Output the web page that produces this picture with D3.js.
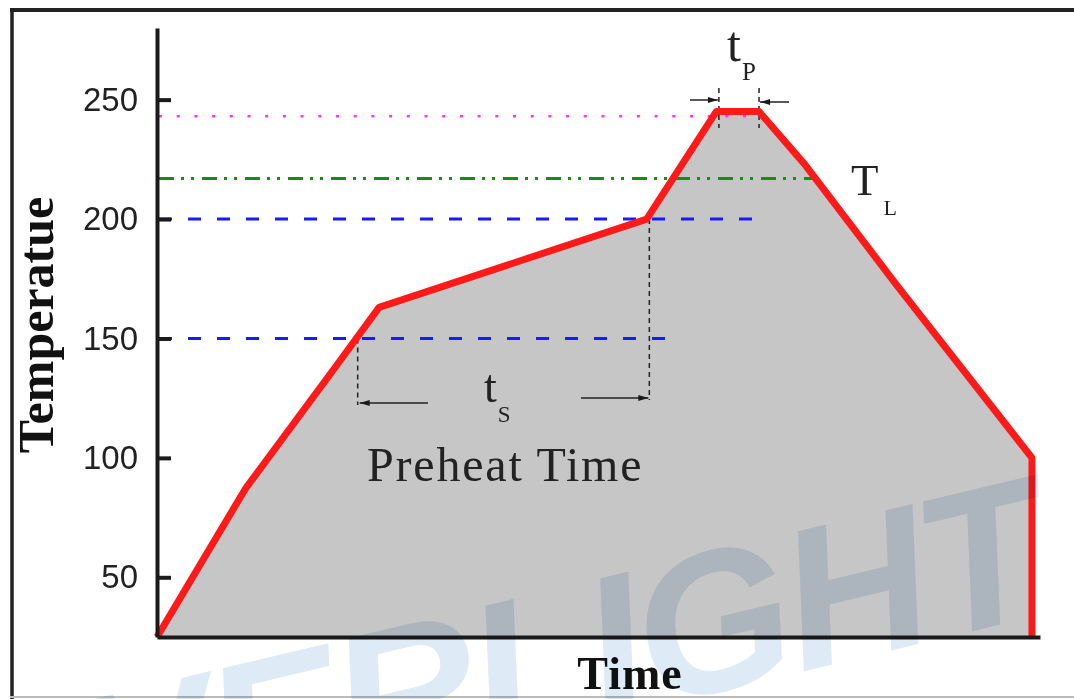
<!DOCTYPE html>
<html>
<head>
<meta charset="utf-8">
<script src="https://cdn.jsdelivr.net/npm/d3@7"></script>
<style>
  body { margin: 0; background: #fff; }
  svg { display: block; }
</style>
</head>
<body>
<script>
var width = 1074,
    height = 699;

// reflow profile, time in s / temperature in deg C
var profileTime = [0, 33, 66, 83, 183, 209, 225, 242, 276, 327, 327];
var profileTemp = [25, 87, 137, 163, 200, 245, 245, 223, 173, 100, 25];

var yTicks = [50, 100, 150, 200, 250];

// horizontal guide lines: level and where they stop
var guideTemp = [243, 217, 200, 150];
var guideEnd = [222, 250, 228, 194];
var guideKind = ["dot", "dashdot", "dash", "dash"];

// preheat window (ts) and peak window (tp)
var tsTime = [75, 184];
var tsTemp = [150, 200];
var tpTime = [210, 225];

var svg = d3.select("body").append("svg")
    .attr("width", width)
    .attr("height", height)

var x = d3.scaleLinear().domain([0, 330]).range([157, 1040]);
var y = d3.scaleLinear().domain([25, 280]).range([637, 28]);

var pts = profileTime.map(function (t, i) { return [t, profileTemp[i]] });

/* outer frame */
svg.append("line").attr("x1", 10).attr("x2", 1074).attr("y1", 10).attr("y2", 10)
    .attr("stroke", "#222").attr("stroke-width", 4)
svg.append("line").attr("x1", 12).attr("x2", 12).attr("y1", 8).attr("y2", 699)
    .attr("stroke", "#222").attr("stroke-width", 3.5)
svg.append("line").attr("x1", 10).attr("x2", 1074).attr("y1", 697).attr("y2", 697)
    .attr("stroke", "#bbb").attr("stroke-width", 2)

/* grey area under the profile */
var area = d3.area()
    .x(function (d) { return x(d[0]) })
    .y0(y(25))
    .y1(function (d) { return y(d[1]) })

svg.append("path")
    .datum(pts)
    .attr("d", area)
    .attr("fill", "#c6c6c6")

/* guide lines */
var dashes = { dot: "3,14.7", dashdot: "15,7,3,7,3,8", dash: "13,16" };
var colors = { dot: "#ff33ff", dashdot: "#1a8a1a", dash: "#1a1aff" };

svg.selectAll(".guide")
    .data(guideTemp)
    .enter().append("line")
    .attr("class", "guide")
    .attr("x1", x(0) + 2)
    .attr("x2", function (d, i) { return x(guideEnd[i]) })
    .attr("y1", function (d) { return y(d) })
    .attr("y2", function (d) { return y(d) })
    .attr("stroke", function (d, i) { return colors[guideKind[i]] })
    .attr("stroke-width", function (d, i) { return guideKind[i] == "dot" ? 2.5 : 3 })
    .attr("stroke-dasharray", function (d, i) { return dashes[guideKind[i]] })

/* vertical markers */
var vdash = "5,4";
svg.append("line")
    .attr("x1", x(tsTime[0])).attr("x2", x(tsTime[0]))
    .attr("y1", y(tsTemp[0])).attr("y2", 405)
    .attr("stroke", "#222").attr("stroke-width", 1.5).attr("stroke-dasharray", vdash)
svg.append("line")
    .attr("x1", x(tsTime[1])).attr("x2", x(tsTime[1]))
    .attr("y1", y(tsTemp[1])).attr("y2", 400)
    .attr("stroke", "#222").attr("stroke-width", 1.5).attr("stroke-dasharray", vdash)
tpTime.forEach(function (t) {
    svg.append("line")
        .attr("x1", x(t)).attr("x2", x(t))
        .attr("y1", 88).attr("y2", 128)
        .attr("stroke", "#222").attr("stroke-width", 1.5).attr("stroke-dasharray", vdash)
})

/* arrows */
svg.append("defs").append("marker")
    .attr("id", "head")
    .attr("viewBox", "0 0 10 7")
    .attr("refX", 10).attr("refY", 3.5)
    .attr("markerWidth", 11).attr("markerHeight", 7)
    .attr("markerUnits", "userSpaceOnUse")
    .attr("orient", "auto")
    .append("path").attr("d", "M0,0.5L10,3.5L0,6.5Z").attr("fill", "#1a1a1a")

function arrow(x1, y1, x2, y2) {
    svg.append("line")
        .attr("x1", x1).attr("y1", y1).attr("x2", x2).attr("y2", y2)
        .attr("stroke", "#222").attr("stroke-width", 1.5)
        .attr("marker-end", "url(#head)")
}
arrow(428, 403, x(tsTime[0]) + 2, 403)
arrow(581, 398, x(tsTime[1]) - 1, 398)
arrow(690, 100, x(tpTime[0]) - 1, 100)
arrow(789, 102, x(tpTime[1]) + 1, 102)

/* red profile */
var line = d3.line()
    .x(function (d) { return x(d[0]) })
    .y(function (d) { return y(d[1]) })

svg.append("path")
    .datum(pts)
    .attr("d", line)
    .attr("fill", "none")
    .attr("stroke", "#ff1a1a")
    .attr("stroke-width", 7)
    .attr("stroke-linejoin", "round")

/* axes */
var yAxis = svg.append("g")
    .attr("transform", "translate(" + x(0) + ",0)")
    .call(d3.axisLeft(y).tickValues(yTicks).tickSizeInner(-14).tickSizeOuter(0).tickPadding(19))
yAxis.select(".domain").attr("stroke", "#1a1a1a").attr("stroke-width", 4)
yAxis.selectAll(".tick line").attr("stroke", "#1a1a1a").attr("stroke-width", 4)
yAxis.selectAll(".tick text")
    .attr("font-family", "'Liberation Sans', Arial, sans-serif")
    .attr("font-size", 33)
    .attr("fill", "#222")

var xAxis = svg.append("g")
    .attr("transform", "translate(0," + y(25) + ")")
    .call(d3.axisBottom(x).ticks(0).tickSizeOuter(0))
xAxis.select(".domain").attr("stroke", "#1a1a1a").attr("stroke-width", 4)

/* texts */
var serif = "'Liberation Serif', 'Times New Roman', serif";

svg.append("text")
    .attr("transform", "translate(53,325) rotate(-90)")
    .attr("text-anchor", "middle")
    .attr("font-family", serif).attr("font-weight", "bold").attr("font-size", 50)
    .attr("fill", "#111")
    .text("Temperatue")

svg.append("text")
    .attr("x", 630).attr("y", 689)
    .attr("text-anchor", "middle")
    .attr("font-family", serif).attr("font-weight", "bold").attr("font-size", 46)
    .attr("letter-spacing", 1)
    .attr("fill", "#111")
    .text("Time")

svg.append("text")
    .attr("x", 367).attr("y", 481)
    .attr("font-family", serif).attr("font-size", 48)
    .attr("letter-spacing", 1.8)
    .attr("fill", "#222")
    .text("Preheat Time")

function label(x0, y0, main, sub, size, subSize, dx, dy) {
    var t = svg.append("text")
        .attr("x", x0).attr("y", y0)
        .attr("font-family", serif).attr("font-size", size)
        .attr("fill", "#222")
    t.append("tspan").text(main)
    t.append("tspan").attr("dx", dx).attr("dy", dy).attr("font-size", subSize).text(sub)
}
label(727, 61, "t", "P", 50, 25, 1, 19)
label(851, 195, "T", "L", 45, 22, 5, 20)
label(484, 402, "t", "S", 46, 23, 1, 20)

/* watermark */
svg.append("text")
    .attr("transform", "translate(1052,612) rotate(-13.4)")
    .attr("text-anchor", "end")
    .attr("font-family", "'Liberation Sans', Arial, sans-serif")
    .attr("font-weight", "bold").attr("font-style", "italic")
    .attr("font-size", 200)
    .attr("letter-spacing", -4)
    .attr("fill", "rgb(222,234,245)")
    .style("mix-blend-mode", "multiply")
    .text("EVERLIGHT")
</script>
</body>
</html>
